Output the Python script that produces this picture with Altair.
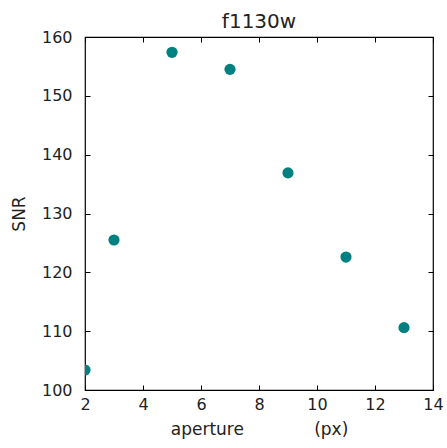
import altair as alt
import pandas as pd

aperture = [2, 3, 5, 7, 9, 11, 13]
snr = [103.4, 125.5, 157.4, 154.5, 136.9, 122.6, 110.6]
x_ticks = [2, 4, 6, 8, 10, 12, 14]
y_ticks = [100, 110, 120, 130, 140, 150, 160]

df = pd.DataFrame({"aperture": aperture, "snr": snr})
FONT = "DejaVu Sans"
xt = "aperture" + "\u00a0" * 13 + "(px)"

xs = alt.Scale(domain=[2, 14], nice=False, zero=False)
ys = alt.Scale(domain=[100, 160], nice=False, zero=False)

common = dict(grid=False, domain=False, tickSize=5, offset=-5, tickColor="black",
              tickWidth=1, labelFont=FONT, labelFontSize=16, labelColor="#222222",
              titleFont=FONT, titleFontSize=17, titleFontWeight="normal", titleColor="#222222")

pts = alt.Chart(df).mark_circle(size=125, color="#008080", opacity=1, clip=True).encode(
    x=alt.X("aperture:Q", scale=xs,
            axis=alt.Axis(orient="bottom", values=x_ticks, title=xt, labelPadding=6,
                          titlePadding=9, labelFlush=False, **common)),
    y=alt.Y("snr:Q", scale=ys,
            axis=alt.Axis(orient="left", values=y_ticks, title="SNR", labelPadding=13,
                          titlePadding=13, labelFlush=False, **common)),
)

frame = alt.Chart(df).mark_circle(opacity=0).encode(
    x=alt.X("aperture:Q", scale=xs,
            axis=alt.Axis(orient="top", values=x_ticks, title=None, labels=False, **common)),
    y=alt.Y("snr:Q", scale=ys,
            axis=alt.Axis(orient="right", values=y_ticks, title=None, labels=False, **common)),
)

chart = alt.layer(pts, frame).resolve_axis(x="independent", y="independent").properties(
    width=348, height=353,
    title=alt.TitleParams("f1130w", font=FONT, fontSize=20, fontWeight="normal",
                          color="#222222", offset=-3),
    autosize=alt.AutoSizeParams(type="none"),
    padding={"left": 85, "top": 37, "right": 14, "bottom": 58},
    background="white",
).configure_view(stroke="black", strokeWidth=1.2)

chart.save("out.html", embed_options={"renderer": "svg", "actions": False})
